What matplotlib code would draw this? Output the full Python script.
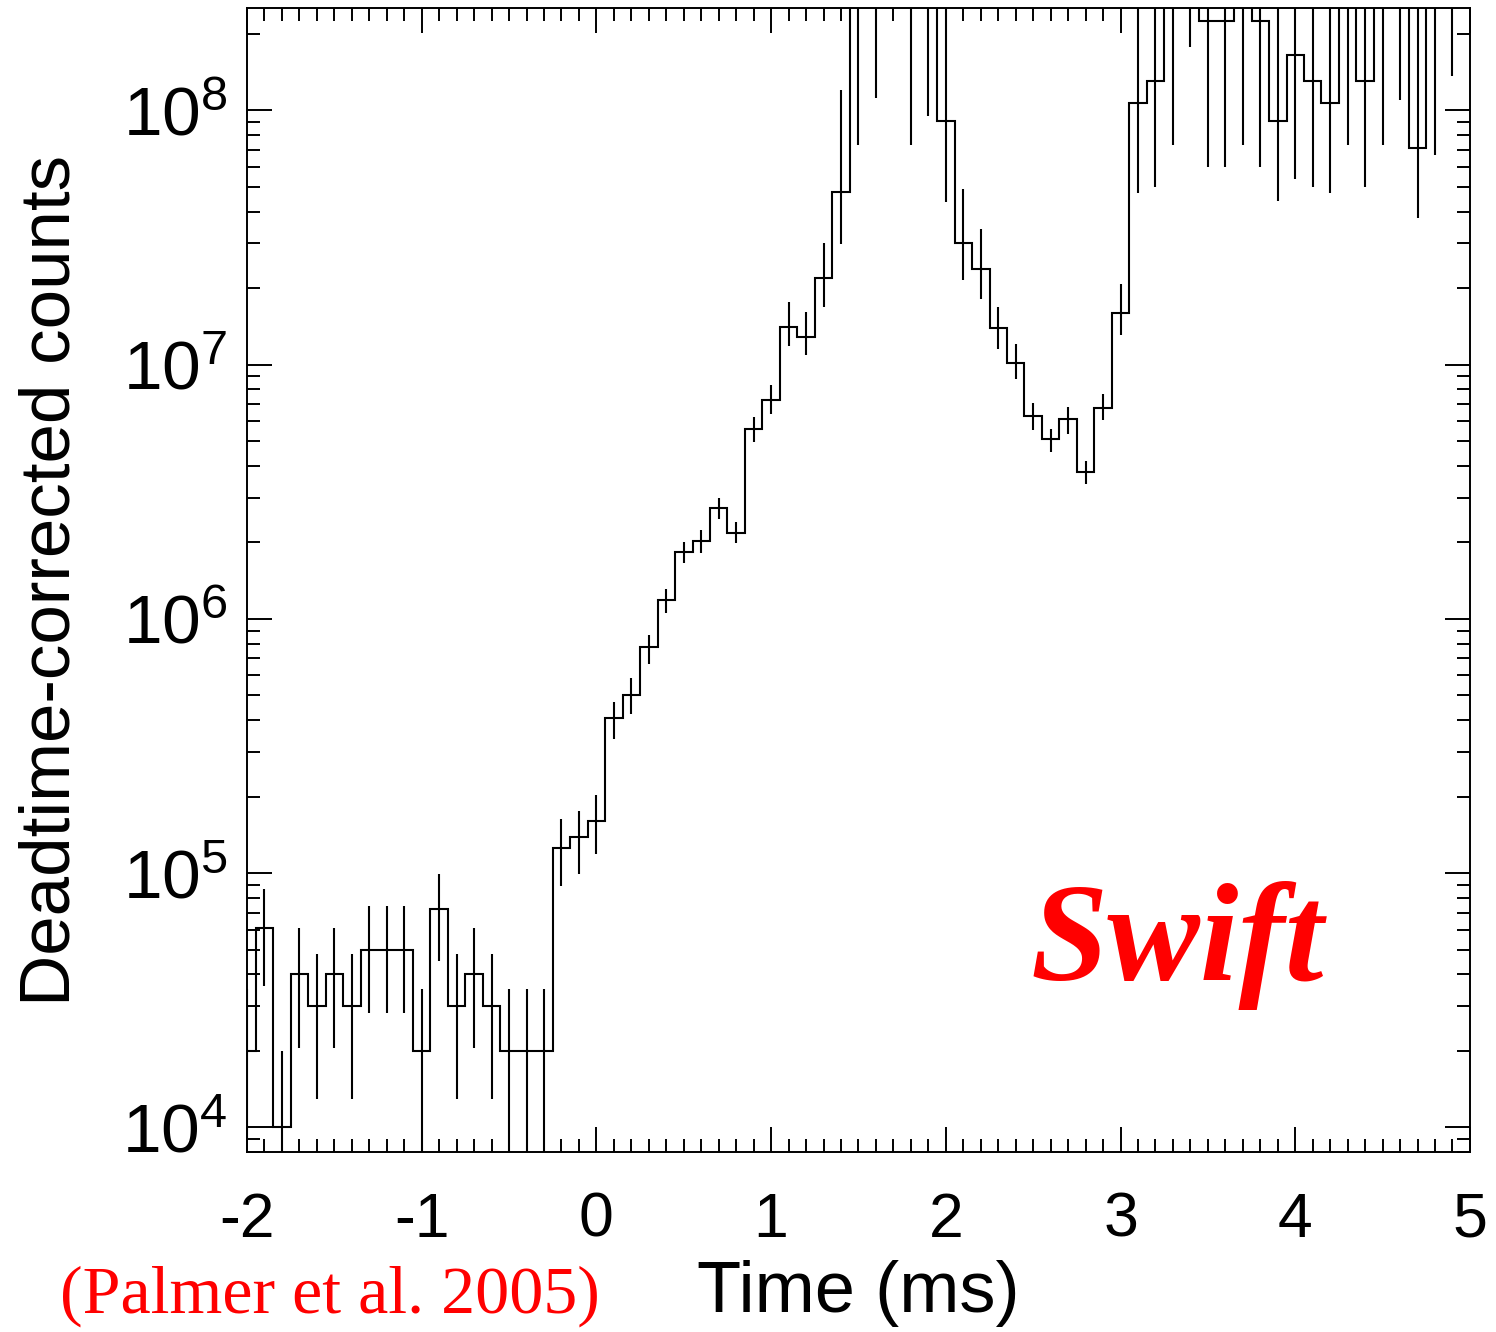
import numpy as np
import matplotlib
matplotlib.use("Agg")
import matplotlib.pyplot as plt
from matplotlib.ticker import MultipleLocator, LogLocator, NullFormatter, FixedLocator, FixedFormatter

plt.rcParams['font.family'] = ['Liberation Sans', 'DejaVu Sans']
plt.rcParams['mathtext.default'] = 'regular'
plt.rcParams['axes.unicode_minus'] = False

# Bin centres (ms), 0.1 ms bins
time_ms = np.round(np.arange(-2.0, 5.05, 0.1), 2)

# Deadtime-corrected counts per bin (values above the plot top are saturated bins)
counts = [
    2.0e4, 6.1e4, 1.0e4, 4.0e4, 3.0e4, 4.0e4, 3.0e4, 5.0e4, 5.0e4, 5.0e4,
    2.0e4, 7.2e4, 3.0e4, 4.0e4, 3.0e4, 2.0e4, 2.0e4, 2.0e4, 1.26e5, 1.39e5,
    1.6e5, 4.07e5, 5.0e5, 7.74e5, 1.19e6, 1.83e6, 2.03e6, 2.72e6, 2.18e6, 5.57e6,
    7.26e6, 1.41e7, 1.29e7, 2.19e7, 4.79e7, 4e8, 4e8, 4e8, 4e8, 4e8,
    9.1e7, 3.0e7, 2.37e7, 1.39e7, 1.02e7, 6.3e6, 5.1e6, 6.1e6, 3.8e6, 6.78e6,
    1.6e7, 1.07e8, 1.31e8, 4e8, 4e8, 2.25e8, 2.25e8, 4e8, 2.25e8, 9.1e7,
    1.65e8, 1.31e8, 1.07e8, 4e8, 1.31e8, 4e8, 4e8, 7.1e7, 4e8, 4e8,
    4e8,
]

err_low = [
    9.0e3, 3.6e4, 1.0e3, 2.05e4, 1.29e4, 2.05e4, 1.29e4, 2.83e4, 2.83e4, 2.83e4,
    1.0e3, 4.5e4, 1.29e4, 2.05e4, 1.29e4, 1.0e3, 1.0e3, 1.0e3, 8.9e4, 9.9e4,
    1.19e5, 3.37e5, 4.23e5, 6.65e5, 1.06e6, 1.66e6, 1.81e6, 2.47e6, 1.99e6, 4.97e6,
    6.4e6, 1.18e7, 1.09e7, 1.68e7, 2.99e7, 7.3e7, 1.12e8, 3e8, 7.3e7, 9.5e7,
    4.36e7, 2.15e7, 1.81e7, 1.15e7, 8.8e6, 5.53e6, 4.55e6, 5.33e6, 3.4e6, 6.07e6,
    1.31e7, 4.72e7, 5.0e7, 7.3e7, 1.77e8, 6.0e7, 6.0e7, 7.3e7, 6.0e7, 4.4e7,
    5.4e7, 5.0e7, 4.72e7, 7.3e7, 5.0e7, 7.3e7, 1.1e8, 3.77e7, 6.7e7, 1.37e8,
    3e8,
]

err_high = [
    3.5e4, 8.7e4, 2.0e4, 6.1e4, 4.8e4, 6.1e4, 4.8e4, 7.4e4, 7.4e4, 7.4e4,
    3.5e4, 9.9e4, 4.8e4, 6.1e4, 4.8e4, 3.5e4, 3.5e4, 3.5e4, 1.63e5, 1.75e5,
    2.03e5, 4.73e5, 5.85e5, 8.65e5, 1.31e6, 2.01e6, 2.24e6, 2.98e6, 2.4e6, 6.21e6,
    8.3e6, 1.77e7, 1.61e7, 3.02e7, 1.2e8, 1e9, 1e9, 1e9, 1e9, 1e9,
    1e9, 4.9e7, 3.41e7, 1.69e7, 1.21e7, 7.05e6, 5.57e6, 6.8e6, 4.18e6, 7.7e6,
    2.07e7, 1e9, 1e9, 1e9, 1e9, 1e9, 1e9, 1e9, 1e9, 1e9,
    1e9, 1e9, 1e9, 1e9, 1e9, 1e9, 1e9, 1e9, 1e9, 1e9,
    1e9,
]

edges = np.round(np.append(time_ms - 0.05, time_ms[-1] + 0.05), 3)

fig = plt.figure(figsize=(14.96, 13.32), dpi=100)
ax = fig.add_axes([0.1651, 0.1351, 0.8175, 0.8589])

lw = 1.5
ax.stairs(counts, edges, color='black', linewidth=lw)
ax.vlines(time_ms, err_low, err_high, color='black', linewidth=lw)

ax.set_yscale('log')
ax.set_xlim(-2, 5)
ax.set_ylim(8.0e3, 2.53e8)

ax.xaxis.set_major_locator(MultipleLocator(1))
ax.xaxis.set_minor_locator(MultipleLocator(0.1))
ax.xaxis.set_major_formatter(matplotlib.ticker.FormatStrFormatter('%d'))

ax.yaxis.set_major_locator(FixedLocator([1e4, 1e5, 1e6, 1e7, 1e8]))
ax.yaxis.set_major_formatter(FixedFormatter([r'$10^{4}$', r'$10^{5}$', r'$10^{6}$', r'$10^{7}$', r'$10^{8}$']))
ax.yaxis.set_minor_locator(LogLocator(base=10, subs=np.arange(2, 10)))
ax.yaxis.set_minor_formatter(NullFormatter())

ax.tick_params(which='both', direction='in', top=True, right=True, width=1.4, colors='black')
ax.tick_params(which='major', length=18)
ax.tick_params(which='minor', length=9.5)
ax.tick_params(axis='x', which='major', labelsize=45, pad=28)
ax.tick_params(axis='y', which='major', labelsize=50, pad=14)
for sp in ax.spines.values():
    sp.set_linewidth(1.4)

ax.set_xlabel('Time (ms)', fontsize=52)
ax.xaxis.set_label_coords(0.5, -0.094)
ax.set_ylabel('Deadtime-corrected counts', fontsize=51)
ax.yaxis.set_label_coords(-0.133, 0.5)

fig.text(1030 / 1496, 1 - 980 / 1332, 'Swift', color='#ff0000', fontsize=100,
         family='Liberation Serif', weight='bold', style='italic', ha='left', va='baseline')
fig.text(60 / 1496, 1 - 1313 / 1332, '(Palmer et al. 2005)', color='#ff0000', fontsize=49,
         family='Liberation Serif', ha='left', va='baseline')

fig.savefig('out.png', dpi=100)
